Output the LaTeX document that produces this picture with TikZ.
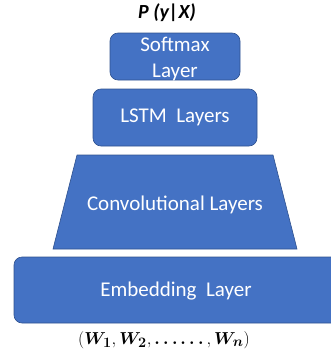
\documentclass[tikz,border=0pt]{standalone}
\usepackage{fontspec}
\usepackage{bm}
\setmainfont{Carlito}
\definecolor{layerblue}{HTML}{4472C4}
\definecolor{layeredge}{HTML}{2F528F}
\begin{document}
\begin{tikzpicture}[x=1pt,y=-1pt,
  layer/.style={fill=layerblue,draw=layeredge,line width=0.6pt,rounded corners=8pt},
  layertext/.style={text=white,font=\fontsize{21}{26}\selectfont,align=center}]
  \useasboundingbox (0,0) rectangle (331,356);
  % output label
  \node[font=\fontsize{20}{22}\selectfont\bfseries\itshape] (out) at (167,13) {P (y|X)};
  % softmax layer
  \draw[layer] (110,33) rectangle (240,80);
  \node[layertext] (soft) at (175,59) {Softmax\\Layer};
  % LSTM layers
  \draw[layer] (93,89) rectangle (257,146);
  \node[layertext] (lstm) at (175,117) {LSTM\ \ Layers};
  % convolutional layers (trapezoid)
  \draw[fill=layerblue,draw=layeredge,line width=0.6pt] (77,155) -- (273,155) -- (297,249) -- (53,249) -- cycle;
  \node[layertext] (conv) at (175,205) {Convolutional Layers};
  % embedding layer, running off the right edge
  \draw[layer] (14,257) rectangle (345,323);
  \node[layertext] (emb) at (176,291) {Embedding\ \ Layer};
  % input sequence
  \node[font=\fontsize{19}{22}\selectfont] (in) at (164,340) {$(\bm{W_1},\bm{W_2},\bm{\ldots\ldots},\bm{W_n})$};
\end{tikzpicture}
\end{document}
